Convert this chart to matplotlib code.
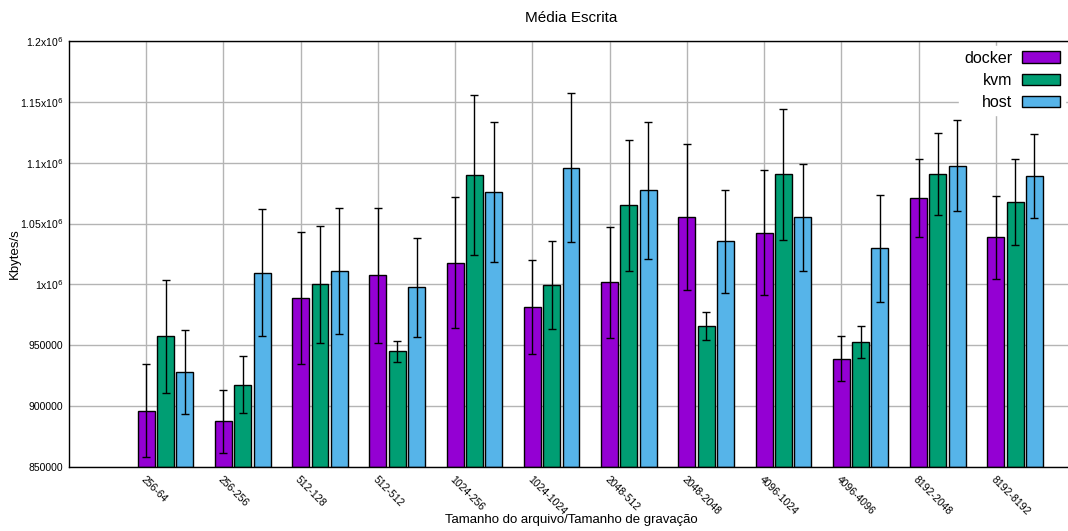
import numpy as np
import matplotlib
matplotlib.use("Agg")
import matplotlib.pyplot as plt

plt.rcParams['font.family'] = ['Liberation Sans', 'DejaVu Sans']

categorias = ["256-64", "256-256", "512-128", "512-512", "1024-256", "1024-1024",
              "2048-512", "2048-2048", "4096-1024", "4096-4096", "8192-2048", "8192-8192"]

docker = [896200, 887500, 988500, 1007400, 1018000, 981600,
          1001600, 1055200, 1042400, 938900, 1070800, 1038800]
docker_err = [38150, 25700, 54200, 55200, 53900, 38450,
              45450, 59850, 51300, 18350, 31900, 34250]

kvm = [957300, 917600, 1000000, 945000, 1089700, 999400,
       1064900, 965800, 1090500, 952900, 1090500, 1067800]
kvm_err = [46650, 23400, 48350, 8600, 65700, 36100,
           53950, 11600, 53850, 13100, 33750, 35100]

host = [928200, 1009800, 1011200, 997500, 1075800, 1096000,
        1077200, 1035300, 1055200, 1029600, 1097700, 1089200]
host_err = [34600, 52250, 52000, 40900, 57500, 61450,
            55900, 42150, 44050, 43650, 37350, 34700]

yticks = [850000, 900000, 950000, 1000000, 1050000, 1100000, 1150000, 1200000]
ytick_labels = ["850000", "900000", "950000", r"1x10$^{6}$", r"1.05x10$^{6}$",
                r"1.1x10$^{6}$", r"1.15x10$^{6}$", r"1.2x10$^{6}$"]

series = [("docker", docker, docker_err, "#9400d3"),
          ("kvm", kvm, kvm_err, "#009e73"),
          ("host", host, host_err, "#56b4e9")]

fig = plt.figure(figsize=(10.68, 5.31), dpi=100)
ax = fig.add_axes([69 / 1068, 1 - 467 / 531, (1073 - 69) / 1068, (467 - 41) / 531])

x = np.arange(len(categorias))
base = 850000
for i, (nome, vals, errs, cor) in enumerate(series):
    vals = np.array(vals)
    ax.bar(x + i * 0.25, vals - base, bottom=base, width=0.22, color=cor,
           edgecolor="black", linewidth=1.0, label=nome, zorder=2)
    ax.errorbar(x + i * 0.25, vals, yerr=errs, fmt="none", ecolor="black",
                elinewidth=1.0, capsize=3.2, capthick=1.0, zorder=3)

ax.set_xlim(-1, 12)
ax.set_ylim(850000, 1200000)
ax.set_yticks(yticks)
ax.set_yticklabels(ytick_labels, fontsize=7.5)
ax.set_xticks(x)
ax.set_xticklabels(categorias, rotation=-45, ha="left", va="top",
                   rotation_mode="anchor", fontsize=7.5)
ax.tick_params(axis="both", length=0, pad=4)
ax.tick_params(axis="x", pad=5)
ax.grid(True, color="#b4b4b4", linewidth=1.0, zorder=0)
ax.set_axisbelow(True)
for s in ax.spines.values():
    s.set_linewidth(1.0)

ax.set_title("Média Escrita", fontsize=11, pad=14)
ax.set_ylabel("Kbytes/s", fontsize=9.5, va="center")
ax.yaxis.set_label_coords(-(69 - 15) / 1004, 0.5)
ax.set_xlabel("Tamanho do arquivo/Tamanho de gravação", fontsize=9.5, va="center")
ax.xaxis.set_label_coords(0.5, -(520 - 467) / 426)

leg = ax.legend(loc="upper right", bbox_to_anchor=(1073 / 1068, 1 - 38 / 531),
                bbox_transform=fig.transFigure, markerfirst=False, fontsize=11.5,
                handlelength=2.4, handleheight=0.75, labelspacing=0.45,
                borderpad=0.3, handletextpad=0.6, frameon=True, fancybox=False)
leg.get_frame().set_edgecolor("white")
leg.get_frame().set_facecolor("white")
leg.get_frame().set_alpha(1.0)
for t in leg.get_texts():
    t.set_ha("right")

fig.savefig("out.png", dpi=100)
